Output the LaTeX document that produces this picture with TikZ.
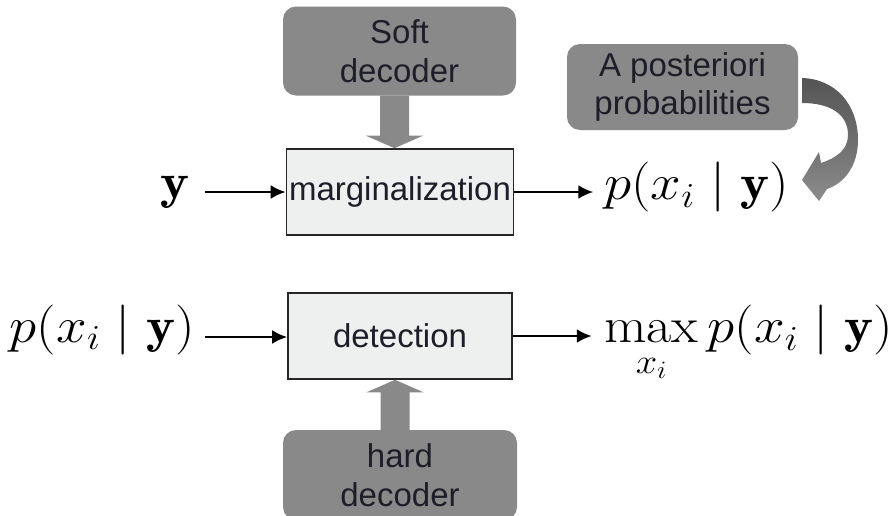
\documentclass[tikz,border=0pt]{standalone}
\usepackage{fix-cm}
\usepackage{amsmath}
\usepackage{graphicx}
\usepackage{fontspec}
\newfontfamily\labfont{Liberation Sans}
\usetikzlibrary{arrows.meta,calc}

\definecolor{blockgray}{HTML}{898989}
\definecolor{boxfill}{HTML}{EEF0F0}
\definecolor{labtext}{HTML}{1E1E28}
\definecolor{swooshtop}{HTML}{555555}
\definecolor{swooshbot}{HTML}{8C8C8C}

\tikzset{
  x=1pt, y=-1pt,
  decoderbox/.style={fill=blockgray, rounded corners=13pt, inner sep=0pt,
    align=center, text=labtext, font=\labfont\fontsize{33}{38.5}\selectfont},
  procbox/.style={draw=black!85, line width=1.6pt, fill=boxfill, inner sep=0pt,
    text=labtext, font=\labfont\fontsize{33}{38.5}\selectfont},
  mathlab/.style={inner sep=0pt, font=\fontsize{50}{60}\selectfont},
  flow/.style={line width=2.5pt, -{Latex[length=15pt,width=14pt]}},
  fatarrow/.style={fill=blockgray},
}

% wide math, stretched a little horizontally
\newcommand\wmath[1]{\scalebox{1.1}[1]{$\displaystyle #1$}}

% vertical block arrow from #1 to #2 (tip at #2)
\newcommand\fatarrow[2]{%
  \fill[fatarrow] let \p1=($(#1)+(-5,0)$), \p2=($(#2)+(-5,0)$),
    \n1={sign(\y1-\y2)} in
    (\x1-14.5pt,\y1) -- (\x1-14.5pt,\y2+12.5pt*\n1) -- (\x1-28.5pt,\y2+12.5pt*\n1)
    -- (\x1,\y2) -- (\x1+28.5pt,\y2+12.5pt*\n1) -- (\x1+14.5pt,\y2+12.5pt*\n1)
    -- (\x1+14.5pt,\y1) -- cycle;}

\begin{document}
\begin{tikzpicture}
\useasboundingbox (0,0) rectangle (896,515);

% upper chain: soft decoding
\node[decoderbox, minimum width=233pt, minimum height=89pt] (soft) at (399.5,51) {Soft\\decoder};
\node[procbox, minimum width=227pt, minimum height=86pt] (marg) at (400,192) {marginalization};
\node[mathlab, anchor=base] (yin) at (175,198) {\wmath{\mathbf{y}}};
\node[mathlab, anchor=base west] (pout) at (604,199.5) {\wmath{p(x_i \mid \mathbf{y})}};
\node[decoderbox, minimum width=231pt, minimum height=86pt] (post) at (682.5,87) {A posteriori\\probabilities};

\coordinate (ystart) at (205,192);
\draw[flow] (ystart) -- (marg.west |- ystart);
\draw[flow] (marg.east) -- ($(marg.east)+(79,0)$) coordinate (pmarg);
\fatarrow{soft.south}{marg.north}

% curved swoosh from the posterior box to the output
\shade[top color=swooshtop, bottom color=swooshbot, middle color=swooshtop!55!swooshbot]
  (802,78) .. controls (836,79) and (858,105) .. (858,140)
  .. controls (858,165) and (845,183) .. (827,189)
  -- (819,201) -- (802,180) -- (819,152) -- (821,163)
  .. controls (836,158) and (848,150) .. (848,135)
  .. controls (848,114) and (830,103) .. (802,103) -- cycle;

% lower chain: hard decision
\node[procbox, minimum width=224pt, minimum height=86pt] (det) at (400,336) {detection};
\node[mathlab, anchor=base east] (pin) at (195,342) {\wmath{p(x_i \mid \mathbf{y})}};
\node[mathlab, anchor=base west] (maxout) at (604,342.5)
  {\wmath{\max\limits_{\rule{0pt}{26pt}x_i} p(x_i \mid \mathbf{y})}};
\node[decoderbox, minimum width=234pt, minimum height=90pt] (hard) at (400,475) {hard\\decoder};

\coordinate (pstart) at (205,337);
\draw[flow] (pstart) -- (det.west |- pstart);
\draw[flow] (det.east) -- ($(det.east)+(79,0)$) coordinate (pdet);
\fatarrow{hard.north}{det.south}
\end{tikzpicture}
\end{document}
